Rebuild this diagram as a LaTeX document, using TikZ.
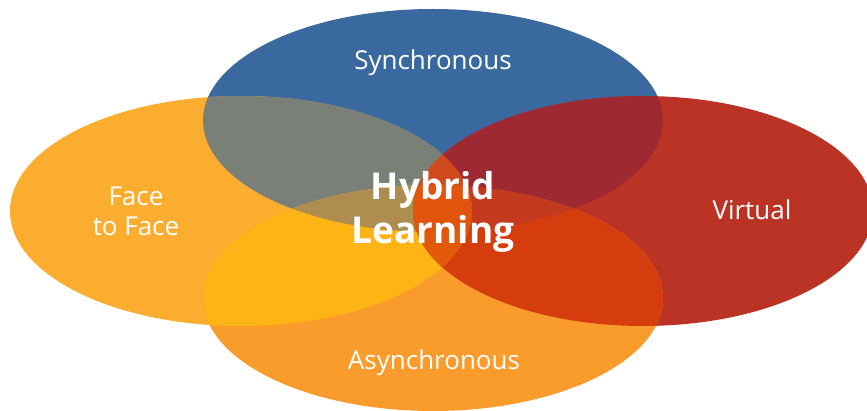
\documentclass[tikz,border=0pt]{standalone}
\usepackage{fontspec}
\setmainfont{Open Sans}
\definecolor{cT}{HTML}{3A69A0}
\definecolor{cL}{HTML}{FBAD2F}
\definecolor{cR}{HTML}{BA3324}
\definecolor{cB}{HTML}{F99C2B}
\definecolor{cLT}{HTML}{7A8078}
\definecolor{cTR}{HTML}{9E2932}
\definecolor{cLB}{HTML}{FDB414}
\definecolor{cRB}{HTML}{D63D0E}
\definecolor{cLTB}{HTML}{AF8D50}
\definecolor{cTRB}{HTML}{C43A1E}
\definecolor{cLRT}{HTML}{CF4B1D}
\definecolor{cLRB}{HTML}{E2590B}
\definecolor{cLRTB}{HTML}{E0550B}
\newcommand\ellT{(433,120.5) ellipse [x radius=230pt, y radius=111.5pt]}
\newcommand\ellL{(241,211) ellipse [x radius=231pt, y radius=115pt]}
\newcommand\ellR{(643,211) ellipse [x radius=230pt, y radius=115pt]}
\newcommand\ellB{(433,298) ellipse [x radius=230pt, y radius=113pt]}
\tikzset{
  lbl/.style={text=white, font=\fontsize{26}{30}\selectfont, align=center, inner sep=0pt},
  mainlbl/.style={text=white, font=\bfseries\fontsize{37}{44}\selectfont, align=center, inner sep=0pt}
}
\begin{document}
\begin{tikzpicture}[x=1pt,y=-1pt]
\useasboundingbox (0,0) rectangle (867,411);
\fill[white] (0,0) rectangle (867,411);
% single ellipses
\fill[cT] \ellT;
\fill[cL] \ellL;
\fill[cR] \ellR;
\fill[cB] \ellB;
% pairwise overlaps
\begin{scope}\clip \ellL; \fill[cLT] \ellT; \end{scope}
\begin{scope}\clip \ellT; \fill[cTR] \ellR; \end{scope}
\begin{scope}\clip \ellL; \fill[cLB] \ellB; \end{scope}
\begin{scope}\clip \ellR; \fill[cRB] \ellB; \end{scope}
\begin{scope}\clip \ellL; \fill[cLRT] \ellR; \end{scope}
% triple overlaps
\begin{scope}\clip \ellL; \clip \ellT; \fill[cLTB] \ellB; \end{scope}
\begin{scope}\clip \ellT; \clip \ellR; \fill[cTRB] \ellB; \end{scope}
\begin{scope}\clip \ellL; \clip \ellR; \fill[cLRT] \ellT; \end{scope}
\begin{scope}\clip \ellL; \clip \ellR; \fill[cLRB] \ellB; \end{scope}
% quadruple overlap
\begin{scope}\clip \ellL; \clip \ellR; \clip \ellT; \fill[cLRTB] \ellB; \end{scope}
% labels
\node[lbl, anchor=base] (sync) at (433,70) {Synchronous};
\node[lbl, anchor=base] (async) at (434,370) {Asynchronous};
\node[lbl, anchor=base] (virt) at (752,220) {Virtual};
\node[lbl] (f2f) at (136,211) {Face\\to Face};
\node[mainlbl] (hyb) at (433,212) {Hybrid\\Learning};
\end{tikzpicture}
\end{document}
